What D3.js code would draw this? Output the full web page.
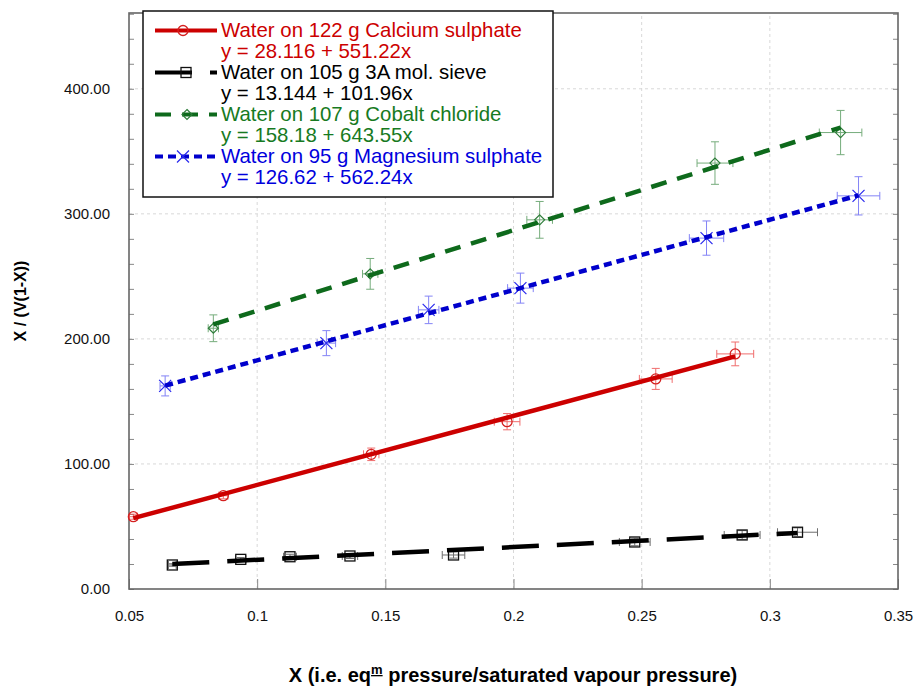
<!DOCTYPE html>
<html>
<head>
<meta charset="utf-8">
<script src="https://cdn.jsdelivr.net/npm/d3@7"></script>
<style>
  body { margin: 0; background: #fff; }
  svg text { font-family: "Liberation Sans", Arial, Helvetica, sans-serif; }
</style>
</head>
<body>
<div id="chart"></div>
<script>
// data: [x, y, xErr, yErr]
const calciumPts = [
  [0.0517, 57.8, 0.0015, 2.0], [0.0868, 74.6, 0.0018, 2.5], [0.1445, 107.7, 0.003, 5.0],
  [0.1975, 133.8, 0.005, 6.5], [0.2555, 168.0, 0.0064, 8.4], [0.2865, 188.0, 0.0072, 9.5]
];
const sievePts = [
  [0.0669, 19.2, 0.0015, 1.0], [0.0936, 23.7, 0.002, 1.5], [0.1128, 25.8, 0.0025, 2.0],
  [0.1362, 26.4, 0.003, 2.0], [0.1766, 27.2, 0.0044, 2.5], [0.2473, 37.6, 0.006, 3.0],
  [0.2892, 43.2, 0.007, 3.5], [0.3108, 45.4, 0.0078, 3.5]
];
const cobaltPts = [
  [0.0829, 208.5, 0.002, 10.7], [0.1441, 252.0, 0.003, 12.3], [0.2102, 295.2, 0.005, 14.7],
  [0.2786, 340.6, 0.007, 17.0], [0.3276, 365.0, 0.0083, 17.7]
];
const magnesiumPts = [
  [0.0641, 162.4, 0.002, 8.0], [0.1270, 196.6, 0.0036, 10.0], [0.1669, 223.2, 0.004, 11.0],
  [0.2027, 240.6, 0.005, 12.0], [0.2753, 280.6, 0.0067, 13.7], [0.3346, 314.4, 0.0083, 15.3]
];

const seriesNames = [
  "Water on 122 g Calcium sulphate",
  "Water on 105 g 3A mol. sieve",
  "Water on 107 g Cobalt chloride",
  "Water on 95 g Magnesium sulphate"
];
const fitA = [28.116, 13.144, 158.18, 126.62];
const fitB = [551.22, 101.96, 643.55, 562.24];
const fitLabels = ["y = 28.116 + 551.22x", "y = 13.144 + 101.96x", "y = 158.18 + 643.55x", "y = 126.62 + 562.24x"];

const xTicks = [0.05, 0.1, 0.15, 0.2, 0.25, 0.3, 0.35];
const yTicks = [0, 100, 200, 300, 400];

const W = 917, H = 687;
const margin = { top: 13, right: 19, bottom: 98, left: 129 };

const styles = [
  { line: "#cc0000", mark: "#d42020", err: "#ee5555", text: "#cc0000", dash: null, shape: "circle" },
  { line: "#000000", mark: "#111111", err: "#555555", text: "#000000", dash: "37,18", shape: "square" },
  { line: "#0e6a1c", mark: "#2e7d3a", err: "#5f9f66", text: "#177a22", dash: "16,11", shape: "diamond" },
  { line: "#0000cc", mark: "#2a2aee", err: "#6f6ff5", text: "#0000dd", dash: "8,5", shape: "cross" }
];
const allPts = [calciumPts, sievePts, cobaltPts, magnesiumPts];

const svg = d3.select("#chart").append("svg").attr("width", W).attr("height", H);

const x = d3.scaleLinear().domain([0.05, 0.35]).range([margin.left, W - margin.right]);
const y = d3.scaleLinear().domain([0, 460.6]).range([H - margin.bottom, margin.top]);

// grid
const grid = svg.append("g");
grid.selectAll(".gy").data(yTicks.slice(1)).enter().append("line")
  .attr("x1", x.range()[0]).attr("x2", x.range()[1])
  .attr("y1", d => y(d)).attr("y2", d => y(d))
  .attr("stroke", "#d8d8d8").attr("stroke-dasharray", "3,3");
grid.selectAll(".gx").data(xTicks.slice(1, -1)).enter().append("line")
  .attr("x1", d => x(d)).attr("x2", d => x(d))
  .attr("y1", y.range()[0]).attr("y2", y.range()[1])
  .attr("stroke", "#d8d8d8").attr("stroke-dasharray", "3,3");

// axes: ticks every 20 on both sides, inward
const minor = d3.range(0, 461, 20);
svg.append("g").attr("transform", `translate(${margin.left},0)`)
  .call(d3.axisRight(y).tickValues(minor).tickSize(5).tickFormat(""))
  .call(g => g.select(".domain").remove())
  .call(g => g.selectAll("line").attr("stroke", "#888"));
svg.append("g").attr("transform", `translate(${W - margin.right},0)`)
  .call(d3.axisLeft(y).tickValues(minor).tickSize(5).tickFormat(""))
  .call(g => g.select(".domain").remove())
  .call(g => g.selectAll("line").attr("stroke", "#888"));
svg.append("g").attr("transform", `translate(0,${H - margin.bottom})`)
  .call(d3.axisTop(x).tickValues(xTicks).tickSize(10).tickFormat(""))
  .call(g => g.select(".domain").remove())
  .call(g => g.selectAll("line").attr("stroke", "#888"));

// tick labels
svg.append("g").attr("transform", `translate(${margin.left},0)`)
  .call(d3.axisLeft(y).tickValues(yTicks).tickSize(0).tickPadding(19).tickFormat(d3.format(".2f")))
  .call(g => g.select(".domain").remove())
  .call(g => g.selectAll("text").attr("fill", "#111").style("font-size", "15px")
    .style("font-family", "'Liberation Sans', Arial, sans-serif"));
svg.append("g").attr("transform", `translate(0,${H - margin.bottom})`)
  .call(d3.axisBottom(x).tickValues(xTicks).tickSize(0).tickPadding(21).tickFormat(d3.format("~g")))
  .call(g => g.select(".domain").remove())
  .call(g => g.selectAll("text").attr("fill", "#111").style("font-size", "15px")
    .style("font-family", "'Liberation Sans', Arial, sans-serif"));

// frame
svg.append("rect")
  .attr("x", x.range()[0]).attr("y", y.range()[1])
  .attr("width", x.range()[1] - x.range()[0]).attr("height", y.range()[0] - y.range()[1])
  .attr("fill", "none").attr("stroke", "#666").attr("stroke-width", 1.6);

function drawMarker(g, shape, color) {
  if (shape === "circle") {
    g.append("circle").attr("r", 5).attr("fill", "none").attr("stroke", color).attr("stroke-width", 1.3);
  } else if (shape === "square") {
    g.append("rect").attr("x", -5).attr("y", -5).attr("width", 10).attr("height", 10)
      .attr("fill", "none").attr("stroke", color).attr("stroke-width", 1.3);
  } else if (shape === "diamond") {
    g.append("path").attr("d", "M0,-5L5,0L0,5L-5,0Z").attr("fill", "none").attr("stroke", color).attr("stroke-width", 1.2);
  } else {
    g.append("path").attr("d", "M-6,-6L6,6M-6,6L6,-6").attr("fill", "none").attr("stroke", color).attr("stroke-width", 1.2);
  }
}

// series
allPts.forEach((pts, i) => {
  const st = styles[i];
  const g = svg.append("g");
  const cap = 4;
  const eb = g.selectAll(".eb").data(pts).enter().append("g")
    .attr("stroke", st.err).attr("stroke-width", 1).attr("opacity", 0.85);
  eb.append("line").attr("x1", d => x(d[0])).attr("x2", d => x(d[0]))
    .attr("y1", d => y(d[1] - d[3])).attr("y2", d => y(d[1] + d[3]));
  eb.append("line").attr("x1", d => x(d[0]) - cap).attr("x2", d => x(d[0]) + cap)
    .attr("y1", d => y(d[1] - d[3])).attr("y2", d => y(d[1] - d[3]));
  eb.append("line").attr("x1", d => x(d[0]) - cap).attr("x2", d => x(d[0]) + cap)
    .attr("y1", d => y(d[1] + d[3])).attr("y2", d => y(d[1] + d[3]));
  eb.append("line").attr("x1", d => x(d[0] - d[2])).attr("x2", d => x(d[0] + d[2]))
    .attr("y1", d => y(d[1])).attr("y2", d => y(d[1]));
  eb.append("line").attr("x1", d => x(d[0] - d[2])).attr("x2", d => x(d[0] - d[2]))
    .attr("y1", d => y(d[1]) - cap).attr("y2", d => y(d[1]) + cap);
  eb.append("line").attr("x1", d => x(d[0] + d[2])).attr("x2", d => x(d[0] + d[2]))
    .attr("y1", d => y(d[1]) - cap).attr("y2", d => y(d[1]) + cap);

  g.selectAll(".mk").data(pts).enter().append("g")
    .attr("transform", d => `translate(${x(d[0])},${y(d[1])})`)
    .each(function () { drawMarker(d3.select(this), st.shape, st.mark); });

  const ext = d3.extent(pts, d => d[0]);
  const fit = d3.line().x(d => x(d)).y(d => y(fitA[i] + fitB[i] * d));
  g.append("path").datum(ext).attr("d", fit)
    .attr("fill", "none").attr("stroke", st.line).attr("stroke-width", 4.5)
    .attr("stroke-dasharray", st.dash);
});

// legend
const lg = svg.append("g");
lg.append("rect").attr("x", 143).attr("y", 11).attr("width", 410).attr("height", 186)
  .attr("fill", "#fff").attr("stroke", "#111").attr("stroke-width", 1.5);
seriesNames.forEach((name, i) => {
  const st = styles[i];
  const base = 37 + i * 42;
  const cy = base - 6.5;
  lg.append("line").attr("x1", 155).attr("x2", 217).attr("y1", cy).attr("y2", cy)
    .attr("stroke", st.line).attr("stroke-width", 4).attr("stroke-dasharray", st.dash);
  const m = lg.append("g").attr("transform", `translate(${i === 0 ? 183 : i === 1 ? 186 : i === 2 ? 187 : 183},${cy})`);
  drawMarker(m, st.shape, st.mark);
  lg.append("text").attr("x", 221).attr("y", base).attr("fill", st.text)
    .style("font-size", "20.4px").text(name);
  lg.append("text").attr("x", 221).attr("y", base + 21).attr("fill", st.text)
    .style("font-size", "20.4px").text(fitLabels[i]);
});

// axis titles
svg.append("text")
  .attr("transform", `translate(26,${(y.range()[0] + y.range()[1]) / 2}) rotate(-90)`)
  .attr("text-anchor", "middle").style("font-size", "16px").style("font-weight", "bold")
  .text("X / (V(1-X))");

const xl = svg.append("text")
  .attr("x", 513).attr("y", 682)
  .attr("text-anchor", "middle").style("font-size", "20px").style("font-weight", "bold");
xl.append("tspan").text("X (i.e. eq");
xl.append("tspan").attr("dy", -8).style("font-size", "13px").style("text-decoration", "underline").text("m");
xl.append("tspan").attr("dy", 8).text(" pressure/saturated vapour pressure)");
</script>
</body>
</html>
